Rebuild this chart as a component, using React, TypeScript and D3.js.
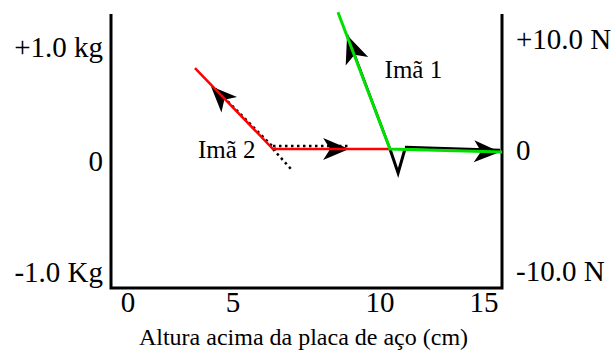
import React from "react";
import * as d3 from "d3";

// ---- data ----
const xTicks = [0, 5, 10, 15];
const leftTicks = [-1, 0, 1];
const leftTickLabels = ["-1.0 Kg", "0", "+1.0 kg"];
const rightTicks = [-10, 0, 10];
const rightTickLabels = ["-10.0 N", "0", "+10.0 N"];
const xTitle = "Altura acima da placa de aço (cm)";

// magnet 2 (red) : [height cm, force N]
const magnet2: [number, number][] = [
  [3.19, 7.1],
  [6.36, 0],
  [10.48, 0],
];
// magnet 1 (green)
const magnet1: [number, number][] = [
  [8.57, 12.0],
  [10.48, 0],
  [15.87, -0.25],
];
// force arrows
const arrow2Up: [number, number][] = [[6.36, 0], [3.95, 5.5]];
const arrow2Right: [number, number][] = [[6.36, 0], [8.95, 0]];
const arrow2Down: [number, number][] = [[6.36, 0], [7.0, -1.72]];
const arrow1Up: [number, number][] = [[10.48, 0], [8.88, 10.0]];
const arrow1Right: [number, number][] = [[11.2, 0], [15.77, -0.25]];
const vMark: [number, number][] = [[10.48, 0], [10.87, -1.97], [11.2, 0]];
const labels = [
  { text: "Imã 1", x: 10.22, y: 7.0 },
  { text: "Imã 2", x: 3.33, y: 0.0 },
];

const W = 614;
const H = 356;
const FONT = "'Liberation Serif', 'Times New Roman', serif";

export default function App() {
  const x = d3.scaleLinear().domain([0, 5, 10, 15]).range([128, 233, 380, 484]);
  const y = d3.scaleLinear().domain([-10, 0, 10]).range([271, 149, 35]);
  const yKg = d3.scaleLinear().domain([-1, 0, 1]).range([272, 161, 47]);
  const yLab = d3.scaleLinear().domain([-10, 0, 10]).range([271, 150, 39]);
  const line = d3
    .line<[number, number]>()
    .x((d) => x(d[0]))
    .y((d) => y(d[1]));

  const box = { left: 111, right: 502, top: 14, bottom: 288 };

  const head = (seg: [number, number][], L = 26, Wd = 11, notch = 7) => {
    const [a, b] = seg;
    const x0 = x(a[0]), y0 = y(a[1]), x1 = x(b[0]), y1 = y(b[1]);
    const ang = (Math.atan2(y1 - y0, x1 - x0) * 180) / Math.PI;
    return (
      <path
        d={`M0,0 L${-L},${-Wd} L${-L + notch},0 L${-L},${Wd} Z`}
        transform={`translate(${x1},${y1}) rotate(${ang})`}
        fill="#000"
      />
    );
  };

  return (
    <svg
      width={W}
      height={H}
      style={{ position: "absolute", left: 0, top: 0, background: "#fff" }}
      fontFamily={FONT}
    >
      <rect width={W} height={H} fill="#fff" />
      {/* axes box */}
      <path
        d={`M${box.left},${box.top} V${box.bottom} H${box.right} V${box.top}`}
        fill="none"
        stroke="#000"
        strokeWidth={3}
      />
      {/* x tick labels */}
      {xTicks.map((t) => (
        <text key={t} x={x(t)} y={312} fontSize={29} textAnchor="middle">
          {t}
        </text>
      ))}
      <text x={(box.left + box.right) / 2 - 3} y={345} fontSize={24} textAnchor="middle">
        {xTitle}
      </text>
      {/* left labels */}
      {leftTicks.map((t, i) => (
        <text key={t} x={103} y={yKg(t)} dy="0.35em" fontSize={29} textAnchor="end">
          {leftTickLabels[i]}
        </text>
      ))}
      {/* right labels */}
      {rightTicks.map((t, i) => (
        <text key={t} x={516} y={yLab(t)} dy="0.35em" fontSize={29} textAnchor="start">
          {rightTickLabels[i]}
        </text>
      ))}

      {/* black force arrows (under colored lines) */}
      <g transform="translate(3,1)">
        <path d={line(arrow2Up) || ""} stroke="#000" strokeWidth={2.5} strokeDasharray="2.5 3.5" fill="none" />
      </g>
      {head(arrow2Up)}
      <g transform="translate(0,-3)">
        <path d={line(arrow2Right) || ""} stroke="#000" strokeWidth={2.5} strokeDasharray="2.5 3.5" fill="none" />
      </g>
      {head(arrow2Right)}
      <path d={line(arrow2Down) || ""} stroke="#000" strokeWidth={2.5} strokeDasharray="2.5 3.5" fill="none" />
      <path d={line(arrow1Up) || ""} stroke="#000" strokeWidth={2.5} fill="none" />
      {head(arrow1Up, 28, 12, 7)}
      <g transform="translate(0,-2)">
        <path d={line(arrow1Right) || ""} stroke="#000" strokeWidth={2.5} fill="none" />
      </g>
      {head(arrow1Right)}
      <path d={line(vMark) || ""} stroke="#000" strokeWidth={3} fill="none" />

      {/* colored curves */}
      <path d={line(magnet2) || ""} stroke="#ff0000" strokeWidth={2.5} fill="none" />
      <path d={line(magnet1) || ""} stroke="#00e000" strokeWidth={3} fill="none" />

      {labels.map((l) => (
        <text key={l.text} x={x(l.x)} y={y(l.y)} dy="0.35em" fontSize={25}>
          {l.text}
        </text>
      ))}
    </svg>
  );
}
